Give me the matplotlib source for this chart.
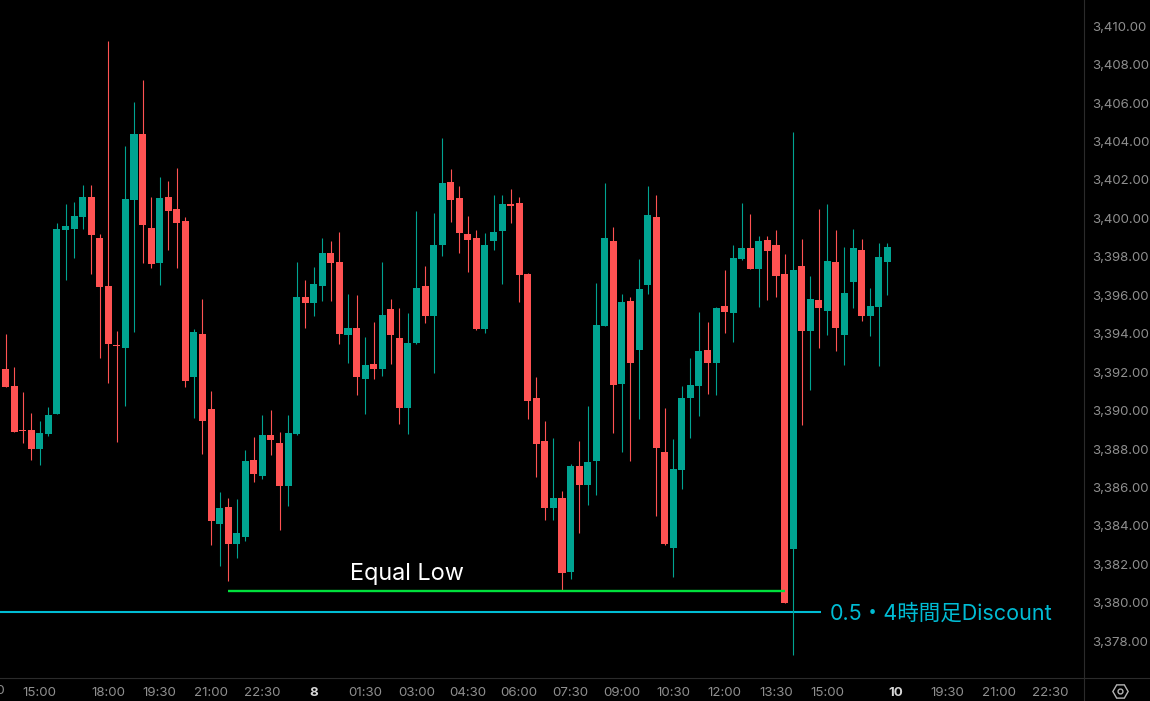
import matplotlib
matplotlib.use("Agg")
import matplotlib.pyplot as plt
from matplotlib.lines import Line2D
from matplotlib.transforms import ScaledTranslation
import numpy as np

opens = [3392.18,3391.29,3389.00,3389.00,3388.01,3388.79,3389.83,3399.41,3399.46,3400.08,3401.12,3398.99,3396.49,3393.42,3393.27,3400.97,3404.40,3399.51,3397.69,3401.12,3400.50,3399.88,3391.76,3394.00,3390.09,3384.11,3384.99,3383.07,3383.43,3387.44,3386.61,3388.74,3388.32,3386.09,3388.79,3395.92,3395.61,3396.49,3398.21,3397.74,3393.94,3394.31,3391.65,3392.44,3392.18,3395.30,3393.79,3390.15,3393.53,3396.49,3394.93,3398.63,3401.90,3401.07,3399.20,3398.99,3394.26,3398.84,3399.36,3400.76,3400.81,3397.12,3390.67,3388.43,3384.94,3385.46,3381.61,3387.13,3386.14,3387.39,3394.41,3398.84,3391.39,3395.71,3393.16,3396.55,3400.08,3387.86,3382.86,3386.92,3390.67,3391.29,3393.16,3392.49,3395.45,3395.09,3397.90,3398.47,3397.38,3398.89,3398.63,3397.12,3382.81,3397.53,3394.15,3395.77,3395.19,3397.74,3393.94,3396.70,3398.37,3394.93,3395.40,3397.74]
closes = [3391.24,3388.90,3388.95,3388.01,3388.85,3389.78,3399.46,3399.62,3400.14,3401.12,3399.15,3396.44,3393.48,3393.37,3401.02,3404.40,3399.67,3397.64,3401.07,3400.40,3399.77,3391.55,3394.10,3389.47,3384.27,3384.94,3383.07,3383.64,3387.39,3386.71,3388.74,3388.48,3386.09,3388.85,3395.92,3395.61,3396.60,3398.21,3397.69,3394.00,3394.31,3391.76,3392.38,3392.18,3394.98,3393.94,3390.15,3393.53,3396.39,3394.93,3398.63,3401.85,3400.97,3399.25,3398.89,3394.26,3398.63,3399.30,3400.76,3400.66,3397.07,3390.51,3388.27,3384.94,3385.46,3381.56,3387.13,3386.14,3387.34,3394.46,3398.99,3391.34,3395.66,3392.49,3396.34,3400.19,3388.06,3383.07,3386.97,3390.67,3391.34,3393.11,3392.49,3395.35,3395.14,3397.95,3398.47,3397.38,3398.84,3398.31,3397.01,3380.00,3397.33,3394.15,3395.82,3395.35,3397.79,3394.31,3396.13,3398.47,3394.93,3395.45,3398.00,3398.52]
highs = [3394.00,3392.28,3390.98,3389.89,3389.47,3390.20,3399.77,3400.76,3400.86,3401.75,3401.75,3399.20,3409.24,3394.15,3403.78,3406.07,3407.21,3401.12,3402.16,3401.96,3402.63,3400.08,3394.26,3395.82,3391.03,3385.78,3385.46,3385.41,3387.96,3388.64,3389.78,3390.04,3388.90,3389.78,3397.74,3396.81,3397.48,3398.99,3398.84,3399.30,3396.08,3396.03,3393.84,3394.62,3397.74,3395.82,3395.35,3395.09,3400.40,3397.53,3400.29,3404.19,3402.58,3401.70,3400.14,3399.41,3399.25,3401.23,3401.23,3401.54,3401.12,3397.17,3391.76,3389.47,3388.58,3385.83,3387.23,3388.43,3390.25,3396.65,3401.85,3399.56,3396.08,3395.92,3397.90,3401.70,3401.23,3390.15,3388.53,3391.29,3392.75,3395.14,3394.62,3395.40,3397.33,3398.63,3400.81,3400.24,3399.10,3399.10,3399.41,3398.16,3404.51,3398.94,3397.01,3400.50,3400.76,3399.41,3398.52,3399.46,3398.94,3396.39,3398.73,3398.73]
lows = [3391.24,3388.90,3388.32,3387.44,3387.18,3388.69,3389.83,3396.81,3397.95,3399.46,3397.12,3392.75,3391.45,3388.38,3390.25,3394.10,3397.69,3397.43,3396.55,3398.37,3397.43,3391.24,3389.63,3387.75,3383.02,3381.93,3381.14,3382.34,3383.23,3386.30,3386.45,3387.70,3383.80,3385.05,3388.74,3394.31,3394.93,3395.71,3395.71,3393.48,3392.49,3390.82,3389.83,3391.65,3391.81,3392.44,3389.31,3388.79,3393.48,3394.57,3391.97,3398.05,3399.82,3398.21,3397.22,3394.20,3394.05,3398.37,3396.60,3399.77,3395.66,3389.57,3386.56,3384.32,3384.32,3380.68,3381.25,3383.64,3385.10,3385.62,3394.41,3388.85,3387.86,3387.39,3389.57,3396.08,3384.53,3383.02,3381.35,3385.93,3388.58,3389.73,3390.87,3390.82,3394.05,3393.58,3397.85,3397.38,3395.40,3395.77,3395.92,3380.00,3377.29,3389.26,3391.08,3393.27,3393.94,3393.11,3392.38,3395.35,3394.67,3393.89,3392.33,3396.03]

price_ticks = list(range(3378, 3412, 2))
time_pos = [4,12,18,24,30,36,42,48,54,60,66,72,78,84,90,96,104,110,116,122]
time_labels = ["15:00","18:00","19:30","21:00","22:30","8","01:30","03:00","04:30","06:00","07:30","09:00","10:30","12:00","13:30","15:00","10","19:30","21:00","22:30"]
bold_labels = {"8","10"}
equal_low = 3380.62
discount = 3379.53

BG = "#000000"; UP = "#00a391"; DOWN = "#ff5252"; GRID = "#2b2b2b"; TXT = "#8f8f8f"
plt.rcParams["font.family"] = ["Inter", "Noto Sans CJK JP", "DejaVu Sans"]

W, H = 1150, 701
fig = plt.figure(figsize=(W/100, H/100), dpi=100, facecolor=BG)
ax = fig.add_axes([0, (H-677)/H, 1084/W, 677/H], facecolor=BG)

opens, closes, highs, lows = map(np.array, (opens, closes, highs, lows))
idx = np.arange(len(opens))
colors = [UP if c >= o else DOWN for o, c in zip(opens, closes)]

ax.plot([-5, 95.2], [discount, discount], color="#00bcd4", lw=1.5, zorder=1, solid_capstyle="butt")
ax.vlines(idx, lows, highs, colors=colors, lw=0.8, zorder=2)
ax.bar(idx, np.abs(closes-opens), bottom=np.minimum(opens, closes), width=0.82, color=colors, linewidth=0, zorder=3)
ax.plot([26, 91], [equal_low, equal_low], color="#00e03c", lw=1.7, zorder=4, solid_capstyle="butt")

ax.set_xlim(-5.6/8.56, (1084-5.6)/8.56)
ax.set_ylim(3380-74*0.05203, 3380+603*0.05203)

ax.text(46.95, 3381.49, "Equal Low", color="#ffffff", fontsize=16.9, ha="center", va="center", zorder=5)
ax.text(96.3, discount-0.08, "0.5・4時間足Discount", color="#00bcd4", fontsize=15.5, ha="left", va="center", zorder=5)

for s in ("top", "left", "right", "bottom"):
    ax.spines[s].set_visible(False)
ax.yaxis.tick_right()
ax.set_yticks(price_ticks, [f"{p:,.2f}" for p in price_ticks])
ax.tick_params(axis="y", length=0, pad=6, labelsize=9.5, labelcolor=TXT)
ax.set_xticks(time_pos, time_labels)
ax.tick_params(axis="x", length=0, pad=7, labelsize=9.6, labelcolor=TXT)
up_px = ScaledTranslation(0, 0.2/100, fig.dpi_scale_trans)
for lab in ax.get_yticklabels():
    lab.set_transform(lab.get_transform() + up_px)
for lab in ax.get_xticklabels():
    if lab.get_text() in bold_labels:
        lab.set_fontweight("bold")
        lab.set_color("#d6d6d6")

# partly clipped label at the left edge
fig.text(-12/W, (H-691)/H, "13:30", color=TXT, fontsize=9.6, ha="center", va="center")

fig.add_artist(Line2D([1084/W]*2, [0, 1], transform=fig.transFigure, color=GRID, lw=0.8))
fig.add_artist(Line2D([0, 1], [(H-677.5)/H]*2, transform=fig.transFigure, color=GRID, lw=0.8))
ix, iy = 1120/W, (H-691)/H
fig.add_artist(Line2D([ix], [iy], transform=fig.transFigure, marker="H", ms=11, mfc="none", mec="#b5b5b5", mew=1))
fig.add_artist(Line2D([ix], [iy], transform=fig.transFigure, marker="o", ms=3.5, mfc="none", mec="#b5b5b5", mew=1))

fig.savefig("out.png", dpi=100, facecolor=BG)
